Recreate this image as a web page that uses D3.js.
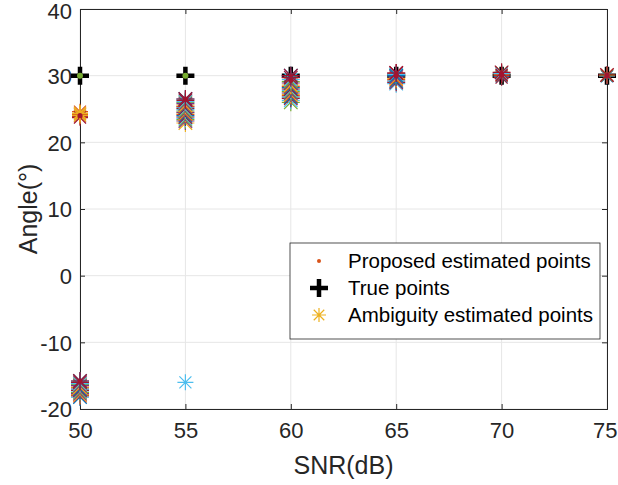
<!DOCTYPE html>
<html><head><meta charset="utf-8">
<script src="https://cdn.jsdelivr.net/npm/d3@7"></script>
<style>body{margin:0;background:#fff}svg{display:block;font-family:"Liberation Sans",Arial,sans-serif}</style>
</head><body><svg id="c" width="618" height="485"></svg>
<script>
const snrTicks = [50,55,60,65,70,75];
const angleTicks = [-20,-10,0,10,20,30,40];
const trueSNR = [50,55,60,65,70,75];
const trueAngle = [30,30,30,30,30,30];
// ambiguity estimates (many trials) per SNR
const amb50a = [23.7,24.6,23.9,24.2,24.4,24.0,24.3];
const amb50b = [-18.2,-18.0,-17.8,-17.7,-17.5,-17.3,-17.2,-17.0,-16.8,-16.7,-16.5,-16.3,-16.2,-16.0,-15.8];
const amb55a = [22.9,23.2,23.4,23.6,23.8,24.0,24.2,24.4,24.5,24.7,24.9,25.1,25.3,25.4,25.6,25.8,26.0,26.1,26.3,26.5];
const amb55b = [-16.0];
const amb60 = [26.0,26.3,26.6,26.8,27.0,27.2,27.4,27.6,27.8,28.0,28.2,28.4,28.6,28.9,29.1,29.4,29.7,30.0];
const amb65 = [28.8,29.0,29.2,29.4,29.6,29.8,30.0,30.2,30.4,30.0];
const amb70 = [29.7,29.9,30.0,30.2,30.4,30.5,30.3,30.1];
const amb75 = [29.9,30.0,30.1,30.0,30.0];
const propSNR = [50,50,55,60,65,70,75];
const propAngle = [24.0,-15.8,26.5,29.3,30.0,30.1,30.0];
const greenSNR = [50,55];
const greenAngle = [30,30];

const pal = ["#0072BD","#D95319","#EDB120","#7E2F8E","#77AC30","#4DBEEE","#A2142F"];
const svg = d3.select("#c");
const L=80,R=607,T=9,B=409;
const x = d3.scaleLinear().domain([50,75]).range([L,R]);
const y = d3.scaleLinear().domain([-20,40]).range([B,T]);
const fg="#262626";
const fmt = d=>String(d);

svg.append("g").selectAll("line").data(snrTicks).join("line")
 .attr("x1",d=>x(d)).attr("x2",d=>x(d)).attr("y1",T).attr("y2",B).attr("stroke","#e6e6e6");
svg.append("g").selectAll("line").data(angleTicks).join("line")
 .attr("y1",d=>y(d)).attr("y2",d=>y(d)).attr("x1",L).attr("x2",R).attr("stroke","#e6e6e6");

const ax = svg.append("g").attr("transform",`translate(0,${B})`)
 .call(d3.axisBottom(x).tickValues(snrTicks).tickSize(-5).tickPadding(13).tickFormat(fmt));
const ay = svg.append("g").attr("transform",`translate(${L},0)`)
 .call(d3.axisLeft(y).tickValues(angleTicks).tickSize(-5).tickPadding(8).tickFormat(fmt));
const ax2 = svg.append("g").attr("transform",`translate(0,${T})`)
 .call(d3.axisTop(x).tickValues(snrTicks).tickSize(-5).tickFormat(""));
const ay2 = svg.append("g").attr("transform",`translate(${R},0)`)
 .call(d3.axisRight(y).tickValues(angleTicks).tickSize(-5).tickFormat(""));
[ax,ay,ax2,ay2].forEach(g=>{g.attr("font-size",null).attr("font-family",null);g.selectAll("path,line").attr("stroke",fg);g.selectAll("text").attr("fill",fg).style("font-size","22px");});
ay.selectAll("text").attr("dy","0.36em");
ay.selectAll(".tick").filter(d=>d===40).select("text").attr("dy","0.45em");
ax.selectAll("text").attr("dy","0.71em");
ax.selectAll(".tick").filter(d=>d===75).select("text").attr("text-anchor","end").attr("x",617-x(75));

svg.append("text").attr("x",(L+R)/2).attr("y",474).attr("text-anchor","middle").attr("fill",fg).style("font-size","25px").text("SNR(dB)");
svg.append("text").attr("transform",`translate(37,${(T+B)/2}) rotate(-90)`).attr("text-anchor","middle").attr("fill",fg).style("font-size","25px").text("Angle(\u00B0)");

const plot = svg.append("g");
function plus(g,cx,cy){
  g.append("path").attr("d",`M${cx-9},${cy}H${cx+9}M${cx},${cy-9}V${cy+9}`).attr("stroke","#000").attr("stroke-width",4.5);
}
function star(g,cx,cy,c,s=8,w=1.2){
  const d=s*0.75;
  g.append("path").attr("d",`M${cx-s},${cy}H${cx+s}M${cx},${cy-s}V${cy+s}M${cx-d},${cy-d}L${cx+d},${cy+d}M${cx-d},${cy+d}L${cx+d},${cy-d}`)
   .attr("stroke",c).attr("stroke-width",w).attr("fill","none");
}
trueSNR.forEach((s,i)=>plus(plot,x(s),y(trueAngle[i])));
greenSNR.forEach((s,i)=>plot.append("circle").attr("cx",x(s)).attr("cy",y(greenAngle[i])).attr("r",3).attr("fill","#77AC30"));

const groups=[[50,amb50b],[50,amb50a],[55,amb55a],[55,amb55b],[60,amb60],[65,amb65],[70,amb70],[75,amb75]];
const c50a=["#A2142F","#D95319","#A2142F","#D95319","#EDB120","#EDB120","#EDB120"];
groups.forEach(([s,arr],gi)=>{
  arr.forEach((v,i)=>{
    let c = pal[(i+gi)%7];
    if(arr===amb55b) c="#4DBEEE";
    if(arr===amb50a) c = c50a[i];
    star(plot,x(s),y(v),c,arr.length>8?9:8);
  });
  if(arr.length>1 && arr!==amb50a){
    star(plot,x(s),y(d3.max(arr)),"#A2142F",9);
  }
});
propSNR.forEach((s,i)=>plot.append("circle").attr("cx",x(s)).attr("cy",y(propAngle[i])).attr("r",2.6).attr("fill","#A2142F"));

const lg = svg.append("g");
lg.append("rect").attr("x",290).attr("y",243).attr("width",310).attr("height",96).attr("fill","#fff").attr("stroke","#262626").attr("stroke-width",0.8);
const items=["Proposed estimated points","True points","Ambiguity estimated points"];
items.forEach((t,i)=>{
  lg.append("text").attr("x",348).attr("y",261+i*27).attr("dy","0.36em").attr("fill","#000").style("font-size","20.5px").text(t);
});
lg.append("circle").attr("cx",319).attr("cy",261).attr("r",2).attr("fill","#D95319");
plus(lg,319,288);
star(lg,319,315,"#EDB120",7);
</script></body></html>
